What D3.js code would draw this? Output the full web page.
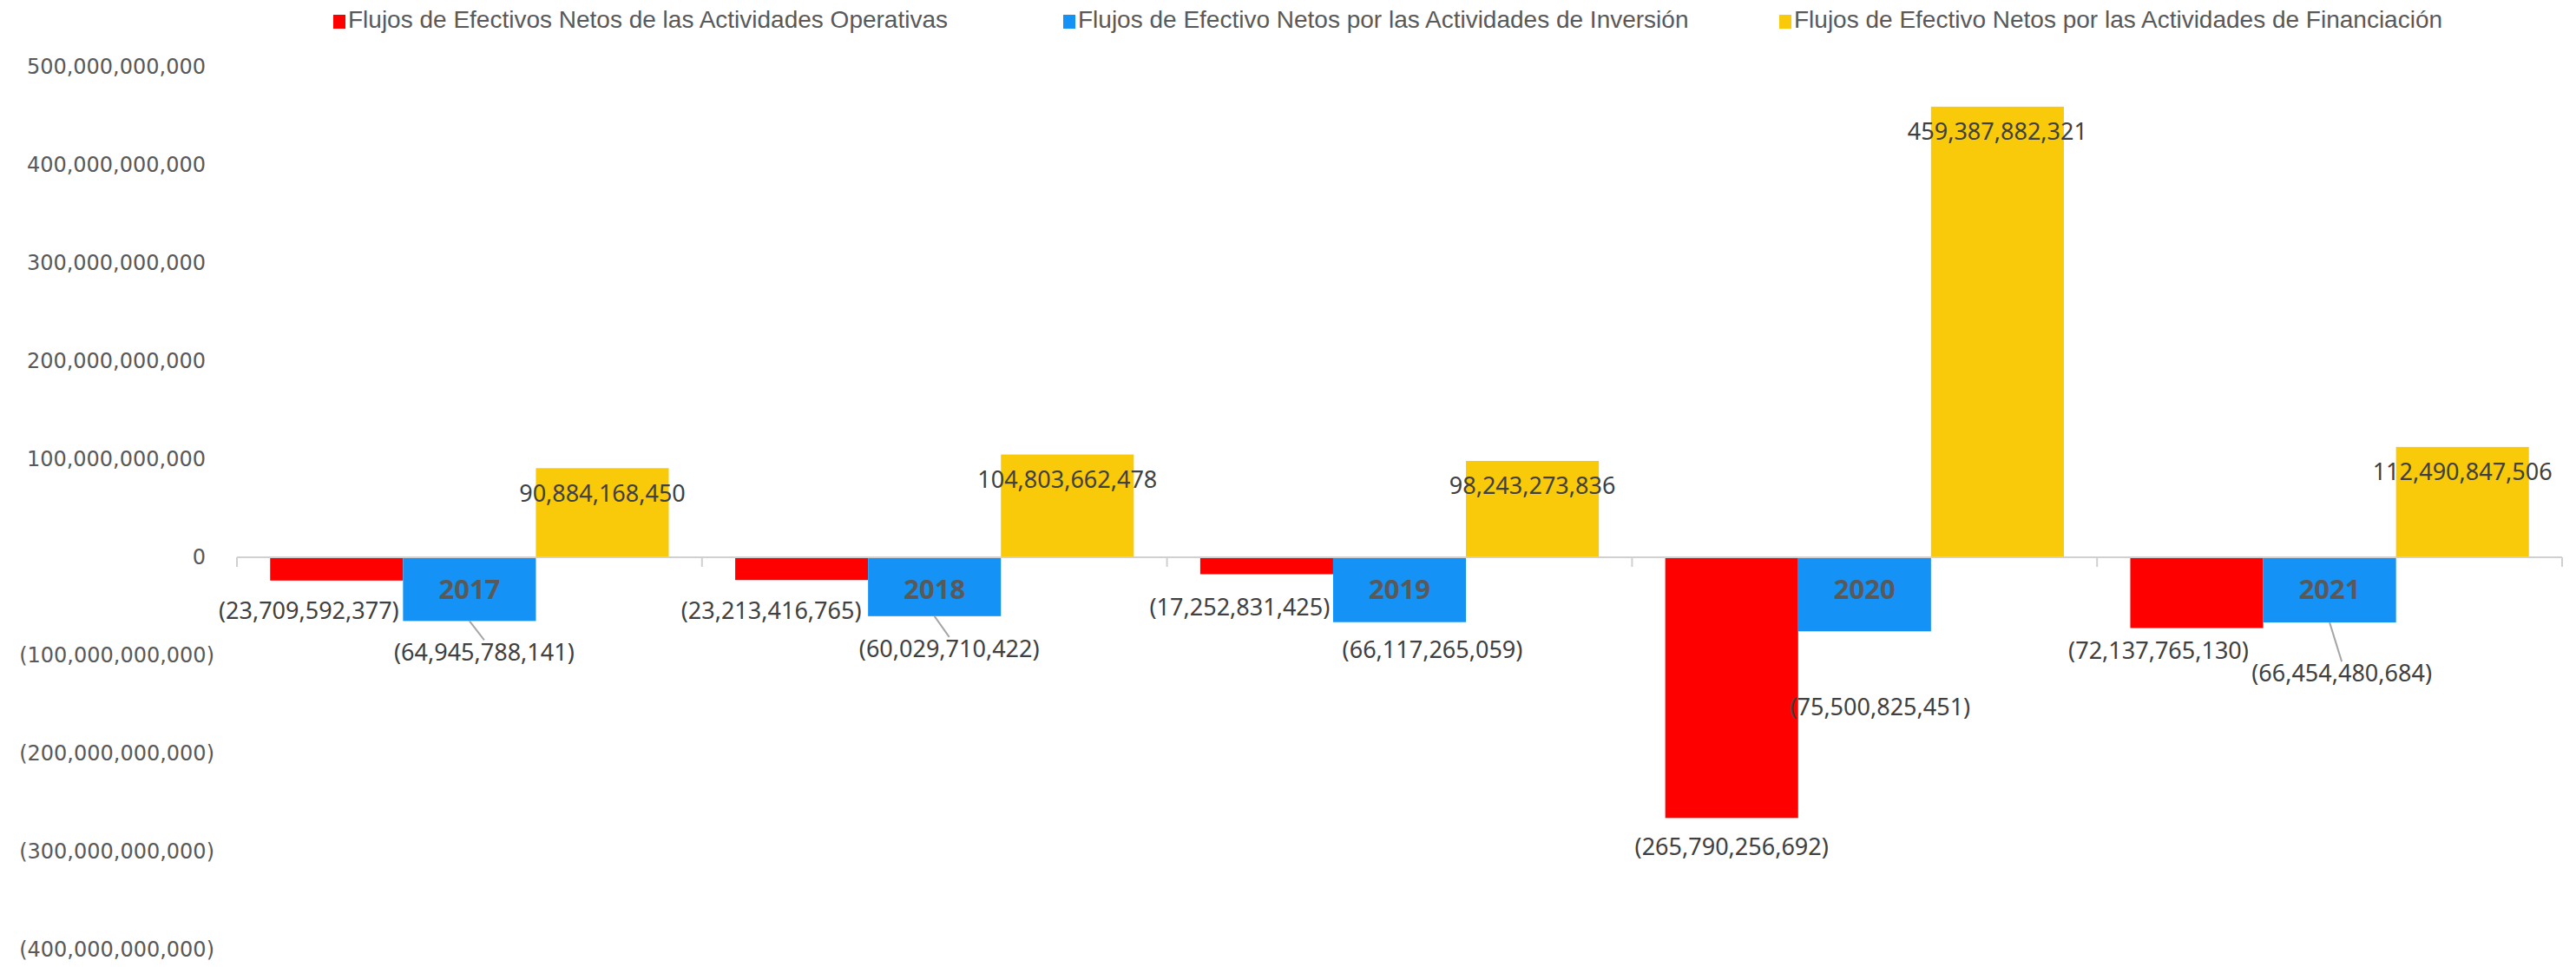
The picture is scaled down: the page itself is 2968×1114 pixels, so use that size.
<!DOCTYPE html>
<html>
<head>
<meta charset="utf-8">
<script src="https://cdn.jsdelivr.net/npm/d3@7"></script>
<style>
  body { margin: 0; background: #fff; }
</style>
</head>
<body>
<svg id="chart"></svg>
<script>
// data
const years = ['2017', '2018', '2019', '2020', '2021']
const seriesNames = [
  'Flujos de Efectivos Netos de las Actividades Operativas',
  'Flujos de Efectivo Netos por las Actividades de Inversión',
  'Flujos de Efectivo Netos por las Actividades de Financiación'
]
const operativas = [-23709592377, -23213416765, -17252831425, -265790256692, -72137765130]
const inversion = [-64945788141, -60029710422, -66117265059, -75500825451, -66454480684]
const financiacion = [90884168450, 104803662478, 98243273836, 459387882321, 112490847506]
const yTicks = [500e9, 400e9, 300e9, 200e9, 100e9, 0, -100e9, -200e9, -300e9, -400e9]
const colors = ['#ff0000', '#1592f5', '#f8ca0a']

// hand placed label nudges (as in the source chart), [dx, dy] from bar end
const labelNudge = [
  [[-32, 37], [-35, 38], [-31, 40], [0, 35], [-44, 28]],
  [[17, 38], [17, 40], [38, 34], [18, 89], [14, 61]],
  [[0, 31], [0, 31], [0, 31], [0, 31], [0, 31]]
]
const leaders = [[false, false, false, false, false], [true, true, false, false, true], [false, false, false, false, false]]

const [W, H] = [2968, 1114]
const svg = d3.select('svg#chart').attr('width', W).attr('height', H)

const fmt = d3.format(',')
const acct = v => v < 0 ? `(${fmt(-v)})` : fmt(v)

const x0 = d3.scaleBand().domain(years).range([273, 2952])
const x1 = d3.scaleBand().domain(d3.range(3)).range([0, x0.bandwidth()]).paddingOuter(0.25)
const y = d3.scaleLinear().domain([-400e9, 500e9]).range([1094, 77])

const table = years.map((yr, i) => ({
  year: yr,
  values: [operativas[i], inversion[i], financiacion[i]]
}))

// y axis labels
const yAxis = svg.append('g')
  .attr('transform', 'translate(273,0)')
  .call(d3.axisLeft(y).tickValues(yTicks).tickSize(0).tickPadding(26).tickFormat(acct))
yAxis.select('.domain').remove()
yAxis.selectAll('text')
  .attr('fill', '#595959')
  .style('font-family', '"DejaVu Sans", sans-serif')
  .style('font-size', '24px')
  .attr('dx', d => d >= 0 ? -10 : 0)

// bars
const groups = svg.append('g').selectAll('g')
  .data(table)
  .enter().append('g')
  .attr('transform', d => `translate(${x0(d.year)},0)`)

groups.selectAll('rect')
  .data(d => d.values)
  .enter().append('rect')
  .attr('x', (v, s) => x1(s))
  .attr('width', x1.bandwidth())
  .attr('y', v => y(Math.max(0, v)))
  .attr('height', v => Math.abs(y(v) - y(0)))
  .attr('fill', (v, s) => colors[s])

// category axis on the zero line
const xAxis = svg.append('g')
  .attr('transform', `translate(0,${y(0)})`)
xAxis.append('line')
  .attr('x1', x0.range()[0]).attr('x2', x0.range()[1])
  .attr('stroke', '#d0d0d0').attr('stroke-width', 2)
xAxis.selectAll('.tick-mark')
  .data(years.map(yr => x0(yr)).concat([x0.range()[1]]))
  .enter().append('line')
  .attr('x1', d => d).attr('x2', d => d)
  .attr('y1', 0).attr('y2', 11)
  .attr('stroke', '#d0d0d0').attr('stroke-width', 2)
xAxis.selectAll('.year')
  .data(years)
  .enter().append('text')
  .attr('x', d => x0(d) + x0.bandwidth() / 2)
  .attr('y', 40)
  .attr('fill', '#595959')
  .style('font-family', '"Noto Sans", sans-serif')
  .style('font-weight', 'bold')
  .style('font-size', '31px')
  .style('text-anchor', 'middle')
  .style('dominant-baseline', 'middle')
  .text(d => d)

// data labels
const labels = []
table.forEach((d, i) => {
  d.values.forEach((v, s) => {
    const cx = x0(d.year) + x1(s) + x1.bandwidth() / 2
    const end = y(v)
    const [dx, dy] = labelNudge[s][i]
    labels.push({ v, cx, end, lx: cx + dx, ly: end + dy, leader: leaders[s][i] })
  })
})

svg.append('g').selectAll('line')
  .data(labels.filter(l => l.leader))
  .enter().append('line')
  .attr('x1', l => l.cx).attr('y1', l => l.end)
  .attr('x2', l => l.lx).attr('y2', l => l.ly - 16)
  .attr('stroke', '#a6a6a6').attr('stroke-width', 2)

svg.append('g').selectAll('text')
  .data(labels)
  .enter().append('text')
  .attr('x', l => l.lx)
  .attr('y', l => l.ly)
  .attr('fill', '#404040')
  .style('font-family', '"Noto Sans", sans-serif')
  .style('font-size', '27px')
  .style('text-anchor', 'middle')
  .style('dominant-baseline', 'middle')
  .text(l => acct(l.v))

// legend
const legendX = [384, 1225, 2050]
const legend = svg.append('g').selectAll('g')
  .data(seriesNames)
  .enter().append('g')
  .attr('transform', (d, i) => `translate(${legendX[i]},25)`)
legend.append('rect')
  .attr('x', 0).attr('y', -8)
  .attr('width', 14).attr('height', 16)
  .attr('fill', (d, i) => colors[i])
legend.append('text')
  .attr('x', 17)
  .attr('y', 0)
  .attr('fill', '#595959')
  .style('font-family', '"Liberation Sans", Arial, sans-serif')
  .style('font-size', '28px')
  .style('dominant-baseline', 'middle')
  .text(d => d)
</script>
</body>
</html>
